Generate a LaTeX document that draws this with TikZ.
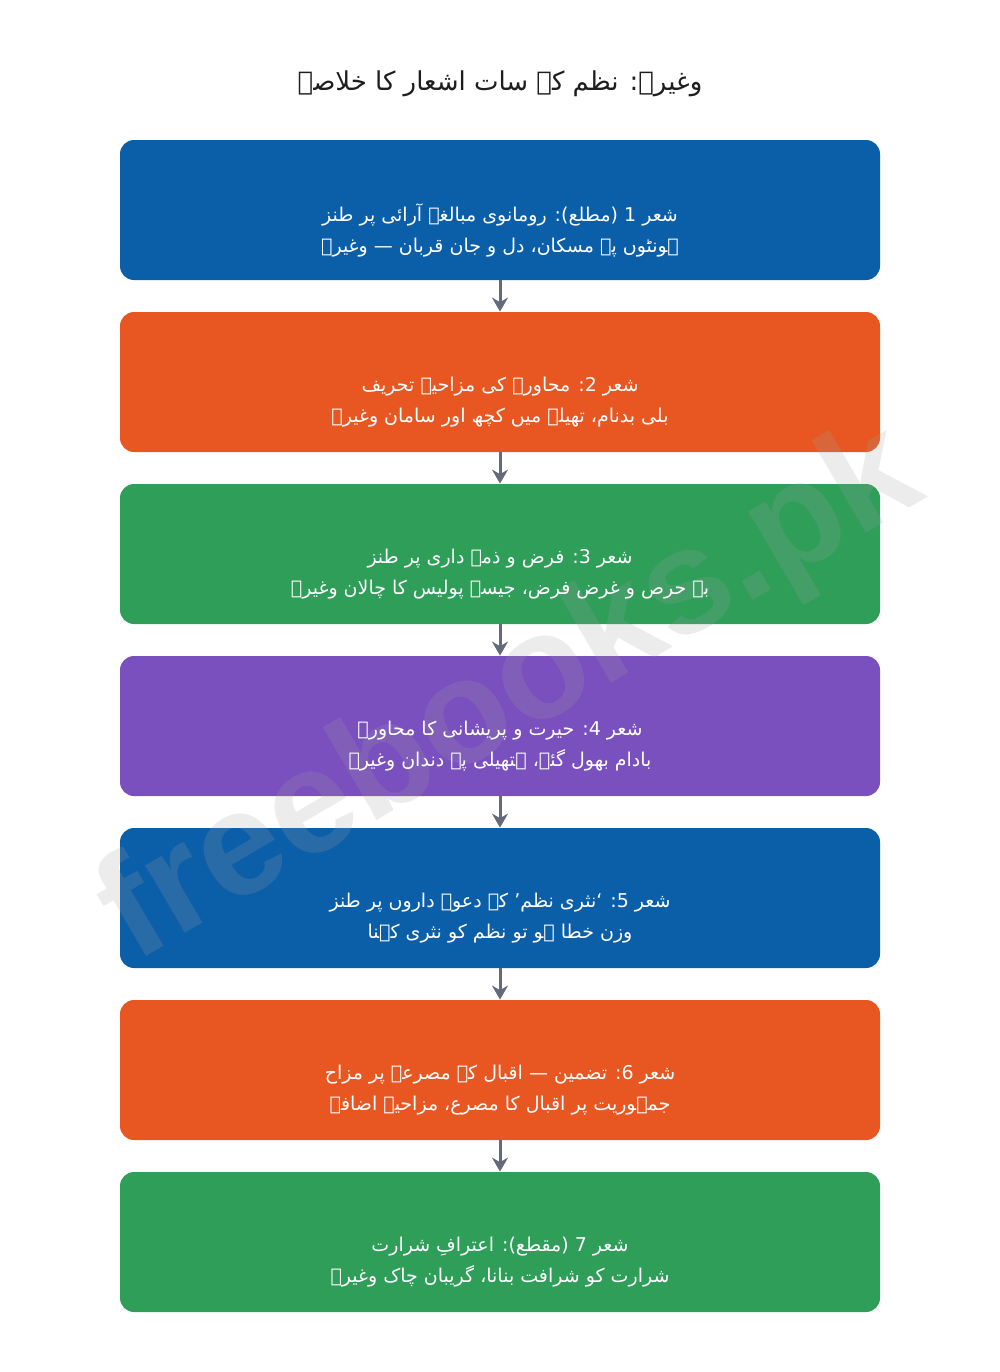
\documentclass[tikz,border=0pt]{standalone}
\usepackage{fontspec}
\newfontfamily\urdufont[Script=Arabic]{DejaVu Sans}
\newfontfamily\wmfont{Liberation Sans}
\TeXXeTstate=1
\usetikzlibrary{arrows.meta}
\newcommand\urtl[1]{\beginR #1\endR}
\definecolor{cblue}{RGB}{11,94,168}
\definecolor{corange}{RGB}{232,87,33}
\definecolor{cgreen}{RGB}{46,158,89}
\definecolor{cpurple}{RGB}{122,79,190}
\definecolor{carrow}{RGB}{100,106,122}
\definecolor{ctitle}{RGB}{30,30,30}
\definecolor{cwm}{RGB}{160,160,160}
\begin{document}
\begin{tikzpicture}[x=0.5pt,y=-0.5pt,
  box/.style={rounded corners=7pt, minimum width=380pt, minimum height=70pt,
    inner sep=0pt},
  boxtext/.style={text=white, align=center, inner sep=0pt,
    font=\urdufont\fontsize{9.5}{15.5}\selectfont},
  arr/.style={draw=carrow, line width=1.5pt, -{Stealth[length=7pt,width=8pt]}},
  titletext/.style={text=ctitle, font=\urdufont\fontsize{13}{18}\selectfont}]
\useasboundingbox (0,0) rectangle (1000,1372);
\node[titletext] (title) at (500,84) {\urtl{وغیرہ: نظم کے سات اشعار کا خلاصہ}};
\node[box, fill=cblue] (b1) at (500,210) {};
\node[box, fill=corange] (b2) at (500,382) {};
\node[box, fill=cgreen] (b3) at (500,554) {};
\node[box, fill=cpurple] (b4) at (500,726) {};
\node[box, fill=cblue] (b5) at (500,898) {};
\node[box, fill=corange] (b6) at (500,1070) {};
\node[box, fill=cgreen] (b7) at (500,1242) {};
\foreach \a/\b in {b1/b2,b2/b3,b3/b4,b4/b5,b5/b6,b6/b7}
  \draw[arr] (\a.south) -- (\b.north);
\node[rotate=30.4, text=cwm, opacity=0.2, font=\wmfont\bfseries\fontsize{74}{74}\selectfont] (wm) at (512,697) {freebooks.pk};
\node[boxtext] (t1) at ([yshift=-10pt]b1.center) {\urtl{شعر 1 (مطلع): رومانوی مبالغہ آرائی پر طنز}\\\urtl{ہونٹوں پہ مسکان، دل و جان قربان — وغیرہ}};
\node[boxtext] (t2) at ([yshift=-10pt]b2.center) {\urtl{شعر 2: محاورے کی مزاحیہ تحریف}\\\urtl{بلی بدنام، تھیلے میں کچھ اور سامان وغیرہ}};
\node[boxtext] (t3) at ([yshift=-10pt]b3.center) {\urtl{شعر 3: فرض و ذمہ داری پر طنز}\\\urtl{بے حرص و غرض فرض، جیسے پولیس کا چالان وغیرہ}};
\node[boxtext] (t4) at ([yshift=-10pt]b4.center) {\urtl{شعر 4: حیرت و پریشانی کا محاورہ}\\\urtl{بادام بھول گئے، ہتھیلی پہ دندان وغیرہ}};
\node[boxtext] (t5) at ([yshift=-10pt]b5.center) {\urtl{شعر 5: ‘نثری نظم’ کے دعوے داروں پر طنز}\\\urtl{وزن خطا ہو تو نظم کو نثری کہنا}};
\node[boxtext] (t6) at ([yshift=-10pt]b6.center) {\urtl{شعر 6: تضمین — اقبال کے مصرعے پر مزاح}\\\urtl{جمہوریت پر اقبال کا مصرع، مزاحیہ اضافہ}};
\node[boxtext] (t7) at ([yshift=-10pt]b7.center) {\urtl{شعر 7 (مقطع): اعترافِ شرارت}\\\urtl{شرارت کو شرافت بنانا، گریبان چاک وغیرہ}};
\end{tikzpicture}
\end{document}
